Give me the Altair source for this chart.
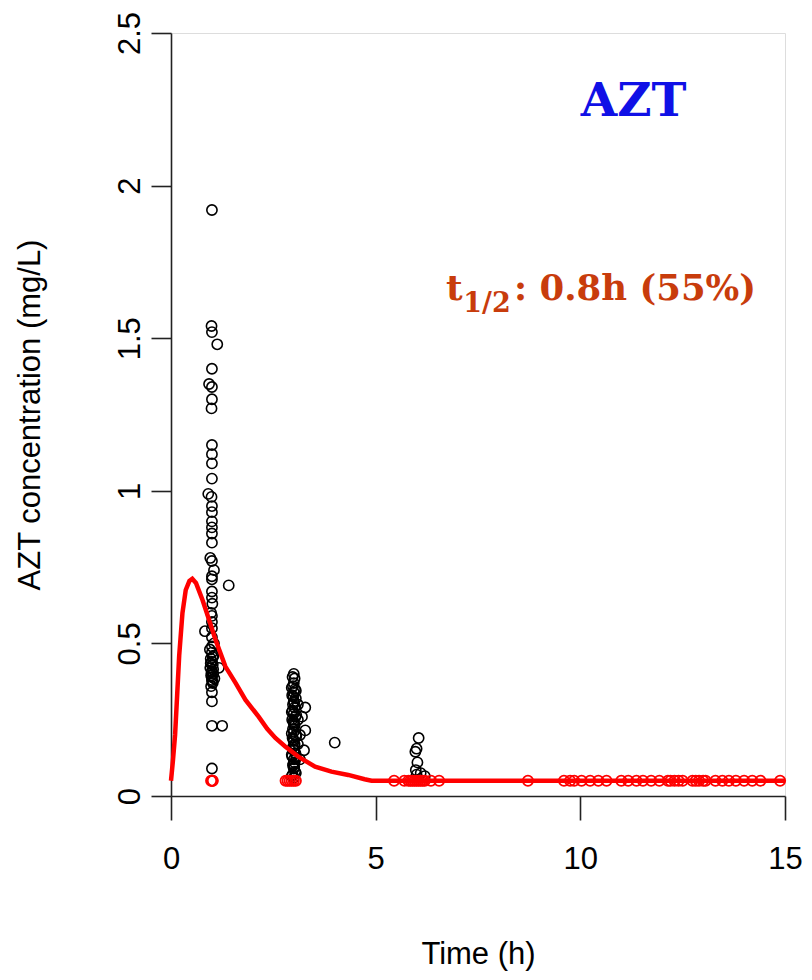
import altair as alt
import pandas as pd

# Observed concentrations (black open circles): time (h), concentration (mg/L)
obs_time = [
    1.00, 0.99, 1.00, 1.13, 1.00, 0.93, 1.00, 1.00, 0.99, 1.00, 1.00, 1.00, 1.00, 0.91,
    0.99, 1.00, 1.00, 1.00, 1.00, 1.00, 1.00, 0.96, 1.00, 1.05, 1.00, 1.00, 1.41, 1.00,
    1.00, 1.00, 1.00, 1.00, 0.83, 1.00, 1.05, 0.95, 1.00, 1.04, 0.97, 1.00, 1.02, 0.96,
    1.17, 1.00, 1.03, 0.98, 1.00, 1.06, 1.00, 1.02, 1.00, 1.00, 1.00, 1.25, 1.00,
    0.97, 1.03, 0.99, 1.01, 0.98, 1.02, 1.00, 0.98, 1.01,
    3.00, 2.97, 3.02, 3.00, 2.98, 3.03, 3.00, 2.96, 3.05, 3.00, 2.98, 3.10, 3.02, 3.28,
    2.97, 3.00, 3.04, 2.96, 3.10, 3.00, 3.02, 2.98, 3.28, 3.00, 3.05, 2.97, 3.00, 3.02,
    2.98, 3.25, 3.00, 3.04, 2.96, 3.00, 3.02, 2.98, 3.00, 3.03, 2.97, 3.00, 3.10, 3.15,
    2.95, 3.05, 2.99, 3.01, 2.95, 3.06, 2.99, 3.01, 2.95, 3.06, 2.99, 3.01, 2.95, 3.06,
    2.99, 3.01, 3.05, 2.95, 3.20, 3.15,
    4.00,
    6.05, 6.00, 5.97, 6.02, 5.98, 6.10, 6.20, 6.00,
]
obs_conc = [
    1.92, 1.54, 1.52, 1.48, 1.40, 1.35, 1.34, 1.30, 1.27, 1.15, 1.12, 1.09, 1.04, 0.99,
    0.98, 0.95, 0.93, 0.90, 0.88, 0.86, 0.83, 0.78, 0.77, 0.74, 0.72, 0.71, 0.69, 0.67,
    0.65, 0.59, 0.57, 0.55, 0.54, 0.52, 0.50, 0.48, 0.47, 0.46, 0.45, 0.44, 0.43, 0.42,
    0.42, 0.41, 0.40, 0.395, 0.39, 0.385, 0.38, 0.37, 0.34, 0.31, 0.23, 0.23, 0.09,
    0.435, 0.415, 0.405, 0.375, 0.36, 0.455, 0.49, 0.60, 0.63,
    0.40, 0.39, 0.385, 0.37, 0.36, 0.35, 0.34, 0.33, 0.32, 0.31, 0.30, 0.30, 0.29, 0.29,
    0.28, 0.27, 0.26, 0.25, 0.25, 0.24, 0.23, 0.22, 0.215, 0.21, 0.20, 0.19, 0.18, 0.17,
    0.16, 0.15, 0.15, 0.14, 0.13, 0.12, 0.11, 0.10, 0.09, 0.08, 0.07, 0.06, 0.17, 0.12,
    0.355, 0.345, 0.325, 0.305, 0.275, 0.265, 0.245, 0.235, 0.205, 0.195, 0.185, 0.165,
    0.135, 0.125, 0.105, 0.095, 0.075, 0.065, 0.26, 0.20,
    0.175,
    0.19, 0.155, 0.145, 0.11, 0.085, 0.075, 0.065, 0.07,
]

# Below-quantification samples (red open circles), plotted at LOQ
blq_time = [
    0.98, 1.00, 1.01, 1.02, 2.80, 2.85, 2.90, 2.95, 3.00, 3.05, 5.45, 5.70, 5.80, 5.85,
    5.90, 5.95, 6.00, 6.05, 6.10, 6.15, 6.20, 6.35, 6.55, 8.72, 9.60, 9.75, 9.85, 10.03,
    10.24, 10.44, 10.64, 11.00, 11.17, 11.37, 11.53, 11.73, 11.93, 12.14, 12.20, 12.30,
    12.40, 12.50, 12.74, 12.82, 12.90, 13.00, 13.06, 13.30, 13.47, 13.63, 13.80, 14.00,
    14.20, 14.40, 14.88,
]
blq_level = 0.05

# Population prediction (red line)
pred_time = [0.0, 0.05, 0.10, 0.15, 0.20, 0.28, 0.36, 0.45, 0.52, 0.61, 0.77, 0.93, 1.09,
             1.33, 1.58, 1.82, 2.14, 2.35, 2.55, 2.79, 3.11, 3.52, 3.92, 4.33, 4.73, 4.90, 15.0]
pred_conc = [0.05, 0.12, 0.20, 0.33, 0.46, 0.60, 0.675, 0.705, 0.712, 0.698, 0.642, 0.577, 0.511,
             0.424, 0.37, 0.315, 0.26, 0.22, 0.19, 0.162, 0.129, 0.096, 0.08, 0.069, 0.055, 0.05, 0.05]

obs_df = pd.DataFrame({"t": obs_time, "c": obs_conc})
blq_df = pd.DataFrame({"t": blq_time, "c": [blq_level] * len(blq_time)})
pred_df = pd.DataFrame({"t": pred_time, "c": pred_conc})

xscale = alt.Scale(domain=[0, 15], nice=False, zero=False)
yscale = alt.Scale(domain=[0, 2.5], nice=False, zero=False)

xaxis = alt.Axis(values=[0, 5, 10, 15], grid=False, tickSize=24, tickColor="#222",
                 domainColor="#222", tickWidth=1.6, domainWidth=1.6,
                 labelFont="Liberation Sans", labelFontSize=31, labelColor="#000",
                 labelPadding=24, labelFlush=False,
                 title="Time (h)", titleFont="Liberation Sans", titleFontSize=31,
                 titleFontWeight="normal", titleColor="#000", titleY=158,
                 titleBaseline="middle")
yaxis = alt.Axis(values=[0, 0.5, 1, 1.5, 2, 2.5], format=".1~f", grid=False, tickSize=20,
                 tickColor="#222", domainColor="#222", tickWidth=1.6, domainWidth=1.6,
                 labelFont="Liberation Sans", labelFontSize=31, labelColor="#000",
                 labelAngle=270, labelAlign="center", labelBaseline="alphabetic",
                 labelPadding=12, labelFlush=False,
                 title="AZT concentration (mg/L)", titleFont="Liberation Sans",
                 titleFontSize=31, titleFontWeight="normal", titleColor="#000",
                 titleX=-141, titleBaseline="middle")

obs = alt.Chart(obs_df).mark_point(shape="circle", filled=False, color="#000", size=105,
                                   strokeWidth=1.6, opacity=1).encode(
    x=alt.X("t:Q", scale=xscale, axis=xaxis),
    y=alt.Y("c:Q", scale=yscale, axis=yaxis),
)

blq = alt.Chart(blq_df).mark_point(shape="circle", filled=False, color="#ff0000",
                                   size=105, strokeWidth=1.8, opacity=1).encode(
    x=alt.X("t:Q", scale=xscale),
    y=alt.Y("c:Q", scale=yscale),
)

pred = alt.Chart(pred_df).mark_line(color="#ff0000", strokeWidth=4.5).encode(
    x=alt.X("t:Q", scale=xscale),
    y=alt.Y("c:Q", scale=yscale),
)

drug_lbl = alt.Chart(pd.DataFrame({"t": [11.3], "c": [2.228], "txt": ["AZT"]})).mark_text(
    font="DejaVu Serif", fontWeight="bold", fontSize=47, color="#1010E6",
    align="center", baseline="alphabetic").encode(x="t:Q", y="c:Q", text="txt:N")

hl_t = alt.Chart(pd.DataFrame({"t": [6.72], "c": [1.625], "txt": ["t"]})).mark_text(
    font="DejaVu Serif", fontWeight="bold", fontSize=36, color="#C83C0C",
    align="left", baseline="alphabetic").encode(x="t:Q", y="c:Q", text="txt:N")

hl_sub = alt.Chart(pd.DataFrame({"t": [7.14], "c": [1.585], "txt": ["1/2"]})).mark_text(
    font="DejaVu Serif", fontWeight="bold", fontSize=27, color="#C83C0C",
    align="left", baseline="alphabetic").encode(x="t:Q", y="c:Q", text="txt:N")

hl_rest = alt.Chart(pd.DataFrame({"t": [8.38], "c": [1.625], "txt": [": 0.8h (55%)"]})).mark_text(
    font="DejaVu Serif", fontWeight="bold", fontSize=35.5, color="#C83C0C",
    align="left", baseline="alphabetic").encode(x="t:Q", y="c:Q", text="txt:N")

chart = alt.layer(obs, blq, pred, drug_lbl, hl_t, hl_sub, hl_rest).properties(
    width=614, height=763,
    autosize=alt.AutoSizeParams(type="none"),
    padding={"left": 163, "top": 25, "right": 19, "bottom": 176},
).configure_view(stroke=None).configure(background="#ffffff")

chart.save("out.html", embed_options={"renderer": "svg", "actions": False})
